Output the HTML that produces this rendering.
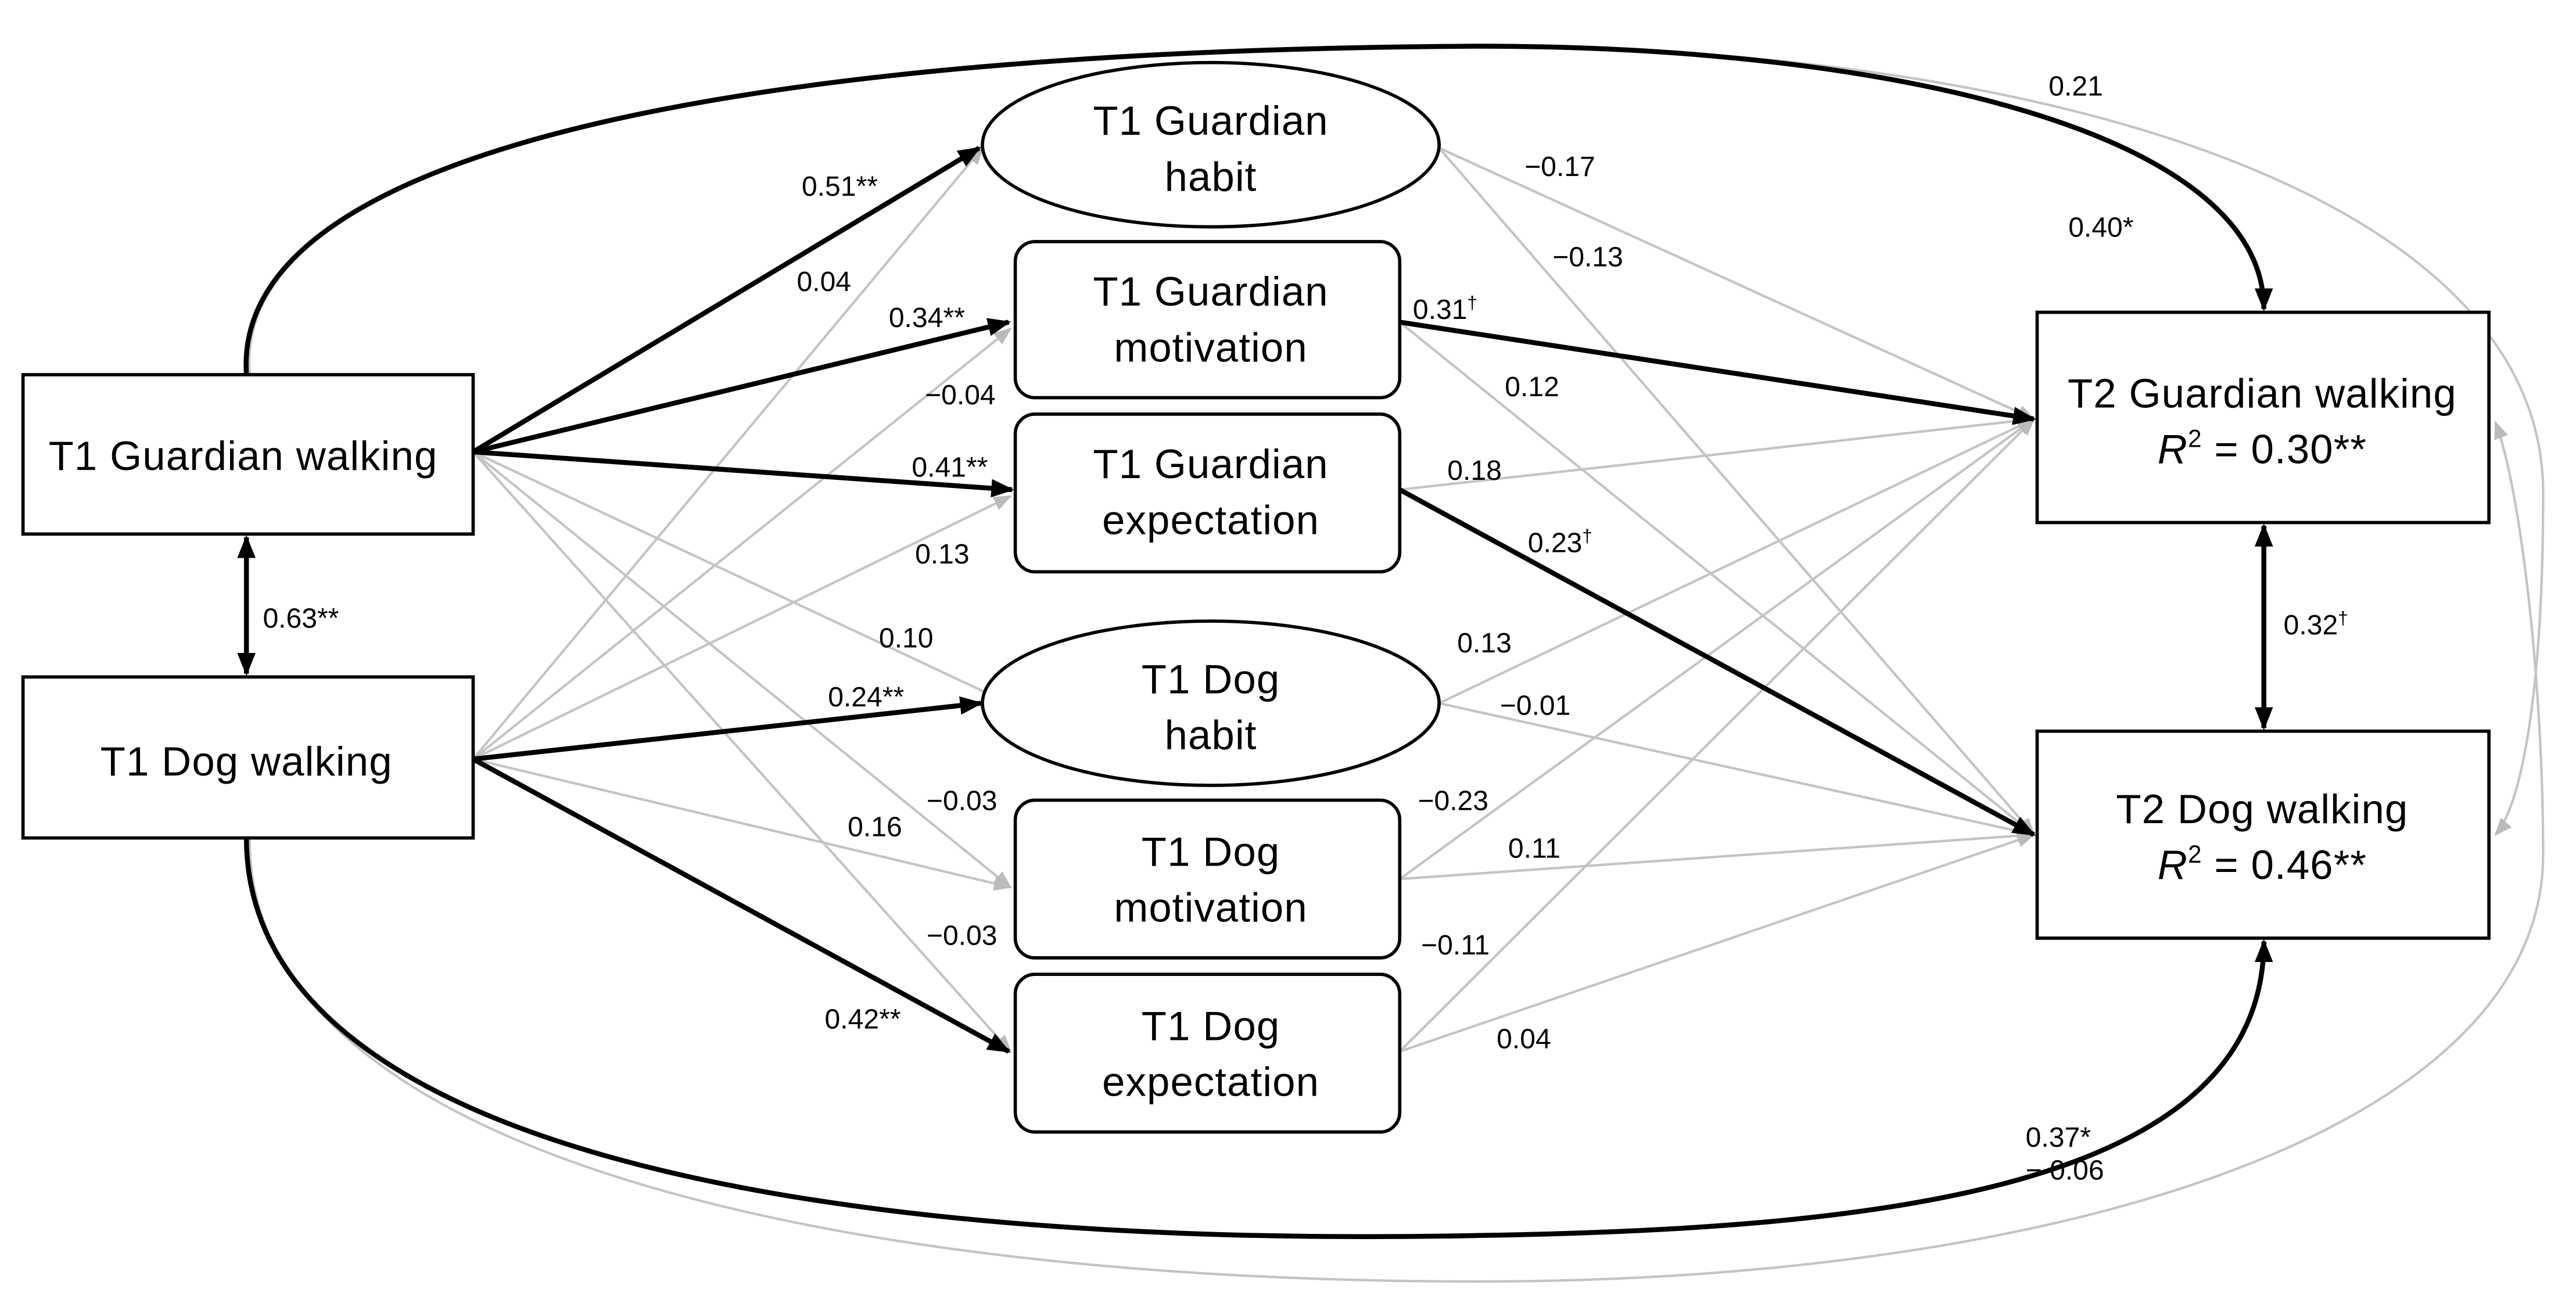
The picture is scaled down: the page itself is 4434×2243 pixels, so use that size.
<!DOCTYPE html>
<html><head><meta charset="utf-8"><style>
html,body{margin:0;padding:0;background:#fff;}
svg{display:block;}
text{font-family:"Liberation Sans",sans-serif;}
</style></head><body>
<svg width="4434" height="2243" viewBox="0 0 1568 793" xmlns="http://www.w3.org/2000/svg">
<defs>
<marker id="abk" viewBox="0 0 10 10" refX="9" refY="5" markerWidth="14" markerHeight="14" orient="auto-start-reverse" markerUnits="userSpaceOnUse"><path d="M0,1 L10,5 L0,9 z" fill="#000"/></marker>
<marker id="ag" viewBox="0 0 10 10" refX="9" refY="5" markerWidth="11" markerHeight="11" orient="auto-start-reverse" markerUnits="userSpaceOnUse"><path d="M0,1 L10,5 L0,9 z" fill="#bbb"/></marker>
</defs>
<rect width="1568" height="793" fill="#fff"/>

<g fill="none" stroke="#c4c4c4" stroke-width="1.5">
<path d="M152,228 C140,80 500,30 900,28 C1250,28 1548,120 1548,300 C1548,420 1535,490 1519,508" marker-end="url(#ag)"/>
<path d="M152,510 C150,700 500,780 900,780 C1250,780 1548,690 1548,520 C1548,420 1535,300 1519,257" marker-end="url(#ag)"/>
</g>
<g fill="none" stroke="#000" stroke-width="3">
<path d="M150,228 C140,80 500,30 900,28 C1150,28 1378,80 1378,188" marker-end="url(#abk)"/>
<path d="M150,510 C150,700 500,760 900,752 C1150,748 1378,722 1378,573" marker-end="url(#abk)"/>
</g>

<g fill="none" stroke="#c4c4c4" stroke-width="1.5">
<line x1="288" y1="275" x2="614" y2="428" marker-end="url(#ag)"/>
<line x1="288" y1="275" x2="615" y2="540" marker-end="url(#ag)"/>
<line x1="288" y1="275" x2="615" y2="640" marker-end="url(#ag)"/>
<line x1="288" y1="462" x2="598" y2="90" marker-end="url(#ag)"/>
<line x1="288" y1="462" x2="615" y2="200" marker-end="url(#ag)"/>
<line x1="288" y1="462" x2="615" y2="302" marker-end="url(#ag)"/>
<line x1="288" y1="462" x2="615" y2="540" marker-end="url(#ag)"/>
<line x1="876" y1="90" x2="1238" y2="255" marker-end="url(#ag)"/>
<line x1="876" y1="90" x2="1238" y2="508" marker-end="url(#ag)"/>
<line x1="852" y1="196" x2="1238" y2="508" marker-end="url(#ag)"/>
<line x1="852" y1="298" x2="1238" y2="255" marker-end="url(#ag)"/>
<line x1="876" y1="428" x2="1238" y2="255" marker-end="url(#ag)"/>
<line x1="876" y1="428" x2="1238" y2="508" marker-end="url(#ag)"/>
<line x1="852" y1="535" x2="1238" y2="255" marker-end="url(#ag)"/>
<line x1="852" y1="535" x2="1238" y2="508" marker-end="url(#ag)"/>
<line x1="852" y1="640" x2="1238" y2="255" marker-end="url(#ag)"/>
<line x1="852" y1="640" x2="1238" y2="508" marker-end="url(#ag)"/>
</g>
<g fill="none" stroke="#000" stroke-width="3">
<line x1="288" y1="275" x2="596" y2="90" marker-end="url(#abk)"/>
<line x1="288" y1="275" x2="614" y2="196" marker-end="url(#abk)"/>
<line x1="288" y1="275" x2="616" y2="298" marker-end="url(#abk)"/>
<line x1="288" y1="462" x2="597" y2="428" marker-end="url(#abk)"/>
<line x1="288" y1="462" x2="614" y2="640" marker-end="url(#abk)"/>
<line x1="852" y1="196" x2="1238" y2="255" marker-end="url(#abk)"/>
<line x1="852" y1="298" x2="1238" y2="508" marker-end="url(#abk)"/>
<line x1="150" y1="327" x2="150" y2="410" marker-start="url(#abk)" marker-end="url(#abk)"/>
<line x1="1378" y1="320" x2="1378" y2="443" marker-start="url(#abk)" marker-end="url(#abk)"/>
</g>

<g fill="#fff" stroke="#000" stroke-width="2">
<rect x="14" y="228" width="274" height="97"/>
<rect x="14" y="412" width="274" height="98"/>
<ellipse cx="737" cy="88" rx="139" ry="50"/>
<rect x="618" y="147" width="234" height="95" rx="12"/>
<rect x="618" y="252" width="234" height="96" rx="12"/>
<ellipse cx="737" cy="428" rx="139" ry="50"/>
<rect x="618" y="487" width="234" height="96" rx="12"/>
<rect x="618" y="593" width="234" height="96" rx="12"/>
<rect x="1240" y="190" width="275" height="128"/>
<rect x="1240" y="445" width="275" height="126"/>
</g>
<g font-size="25" letter-spacing="0.4" text-anchor="middle" fill="#000">
<text x="148" y="286">T1 Guardian walking</text>
<text x="150" y="472">T1 Dog walking</text>
<text x="737" y="82">T1 Guardian</text><text x="737" y="116">habit</text>
<text x="737" y="186">T1 Guardian</text><text x="737" y="220">motivation</text>
<text x="737" y="291">T1 Guardian</text><text x="737" y="325">expectation</text>
<text x="737" y="422">T1 Dog</text><text x="737" y="456">habit</text>
<text x="737" y="527">T1 Dog</text><text x="737" y="561">motivation</text>
<text x="737" y="633">T1 Dog</text><text x="737" y="667">expectation</text>
<text x="1377" y="248">T2 Guardian walking</text>
<text x="1377" y="282"><tspan font-style="italic">R</tspan><tspan font-size="15" dy="-10">2</tspan><tspan dy="10"> = 0.30**</tspan></text>
<text x="1377" y="501">T2 Dog walking</text>
<text x="1377" y="535"><tspan font-style="italic">R</tspan><tspan font-size="15" dy="-10">2</tspan><tspan dy="10"> = 0.46**</tspan></text>
</g>
<g font-size="17" fill="#000">
<text x="488" y="119">0.51**</text>
<text x="485" y="177">0.04</text>
<text x="541" y="199">0.34**</text>
<text x="563" y="246">−0.04</text>
<text x="555" y="290">0.41**</text>
<text x="557" y="343">0.13</text>
<text x="535" y="394">0.10</text>
<text x="504" y="430">0.24**</text>
<text x="564" y="493">−0.03</text>
<text x="516" y="509">0.16</text>
<text x="564" y="575">−0.03</text>
<text x="502" y="626">0.42**</text>
<text x="160" y="382">0.63**</text>
<text x="928" y="107">−0.17</text>
<text x="945" y="162">−0.13</text>
<text x="860" y="194">0.31<tspan font-size="11" dy="-6">†</tspan></text>
<text x="916" y="241">0.12</text>
<text x="881" y="292">0.18</text>
<text x="930" y="336">0.23<tspan font-size="11" dy="-6">†</tspan></text>
<text x="887" y="397">0.13</text>
<text x="913" y="435">−0.01</text>
<text x="863" y="493">−0.23</text>
<text x="918" y="522">0.11</text>
<text x="865" y="581">−0.11</text>
<text x="911" y="638">0.04</text>
<text x="1390" y="386">0.32<tspan font-size="11" dy="-6">†</tspan></text>
<text x="1259" y="144">0.40*</text>
<text x="1247" y="58">0.21</text>
<text x="1233" y="698">0.37*</text>
<text x="1233" y="718">− 0.06</text>
</g>
</svg>
</body></html>
